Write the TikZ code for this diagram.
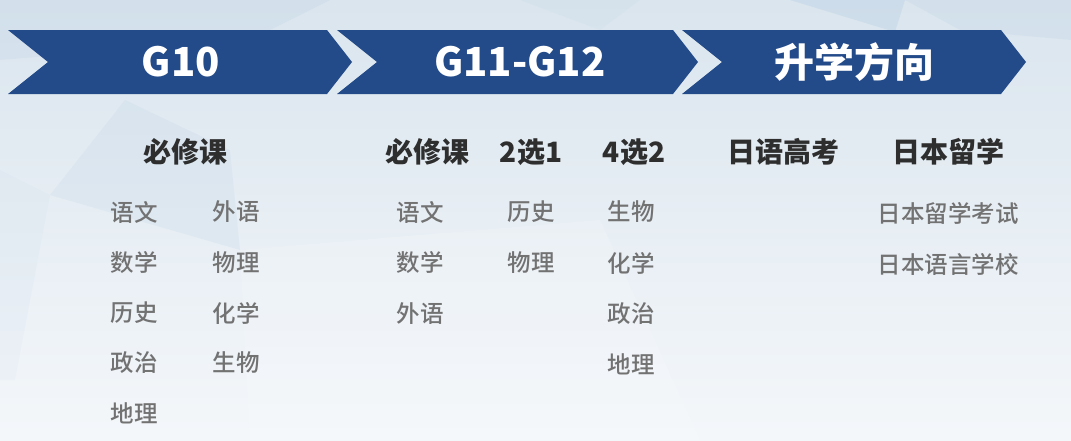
\documentclass[tikz,border=0pt]{standalone}
\usepackage{fontspec}
\setmainfont{Noto Sans CJK SC}
\newfontfamily\itemfont{Noto Sans CJK SC Medium}
\definecolor{chevblue}{HTML}{234A89}
\definecolor{headdark}{HTML}{2E2E2E}
\definecolor{itemgray}{HTML}{727272}
\definecolor{bgtop}{HTML}{DAE5EE}
\definecolor{bgbot}{HTML}{F4F7FA}
\definecolor{poly}{HTML}{BFD3E6}
\tikzset{
  chevron/.style={fill=chevblue, draw=none},
  title/.style={text=white, font=\fontsize{40}{44}\selectfont\bfseries, anchor=center, inner sep=0pt},
  colhead/.style={text=headdark, font=\fontsize{28}{32}\selectfont\bfseries, anchor=center, inner sep=0pt},
  item/.style={text=itemgray, font=\itemfont\fontsize{23.5}{26}\selectfont, anchor=center, inner sep=0pt},
  bgpoly/.style={fill=poly, draw=none}
}
\begin{document}
\begin{tikzpicture}[x=1pt, y=-1pt]
\useasboundingbox (0,0) rectangle (1071,440);
% background
\shade[top color=bgtop, bottom color=bgbot, middle color=bgtop!50!bgbot] (0,0) rectangle (1071,440);
\fill[bgpoly, opacity=0.25] (0,0) -- (330,0) -- (250,40) -- (0,60) -- cycle;
\fill[bgpoly, opacity=0.45] (790,0) -- (905,0) -- (895,32) -- cycle;
\fill[bgpoly, opacity=0.25] (905,0) -- (1071,0) -- (1071,40) -- (960,30) -- cycle;
\fill[bgpoly, opacity=0.22] (50,195) -- (125,100) -- (230,150) -- (240,250) -- cycle;
\fill[bgpoly, opacity=0.1] (0,170) -- (50,195) -- (15,380) -- (0,380) -- cycle;
\fill[white, opacity=0.15] (240,250) -- (600,220) -- (700,440) -- (250,440) -- cycle;
\fill[bgpoly, opacity=0.15] (520,0) -- (640,0) -- (600,30) -- cycle;
% chevrons
\fill[chevron] (8,30) -- (327,30) -- (352,62) -- (327,94) -- (8,94) -- (48,62) -- cycle;
\fill[chevron] (337,30) -- (673,30) -- (698,62) -- (673,94) -- (337,94) -- (377,62) -- cycle;
\fill[chevron] (682,30) -- (1001,30) -- (1026,62) -- (1001,94) -- (682,94) -- (722,62) -- cycle;
\node[title] (t1) at (181,62) {G10};
\node[title] (t2) at (520,62) {G11-G12};
\node[title] (t3) at (854,62) {升学方向};
% G10 column
\node[colhead] (h1) at (185,152) {必修课};
\node[item] (a1) at (134,212) {语文};
\node[item] (a2) at (134,263) {数学};
\node[item] (a3) at (134,313) {历史};
\node[item] (a4) at (134,363) {政治};
\node[item] (a5) at (134,413) {地理};
\node[item] (b1) at (236,212) {外语};
\node[item] (b2) at (236,263) {物理};
\node[item] (b3) at (236,313) {化学};
\node[item] (b4) at (236,363) {生物};
% G11-G12 columns
\node[colhead] (h2) at (427,152) {必修课};
\node[colhead] (h3) at (531,152) {2选1};
\node[colhead] (h4) at (634,152) {4选2};
\node[item] (c1) at (420,212) {语文};
\node[item] (c2) at (420,263) {数学};
\node[item] (c3) at (420,314) {外语};
\node[item] (d1) at (531,212) {历史};
\node[item] (d2) at (531,263) {物理};
\node[item] (e1) at (631,212) {生物};
\node[item] (e2) at (631,263) {化学};
\node[item] (e3) at (631,314) {政治};
\node[item] (e4) at (631,364) {地理};
% destination columns
\node[colhead] (h5) at (783,152) {日语高考};
\node[colhead] (h6) at (948,152) {日本留学};
\node[item] (f1) at (948,213) {日本留学考试};
\node[item] (f2) at (948,264) {日本语言学校};
\end{tikzpicture}
\end{document}
